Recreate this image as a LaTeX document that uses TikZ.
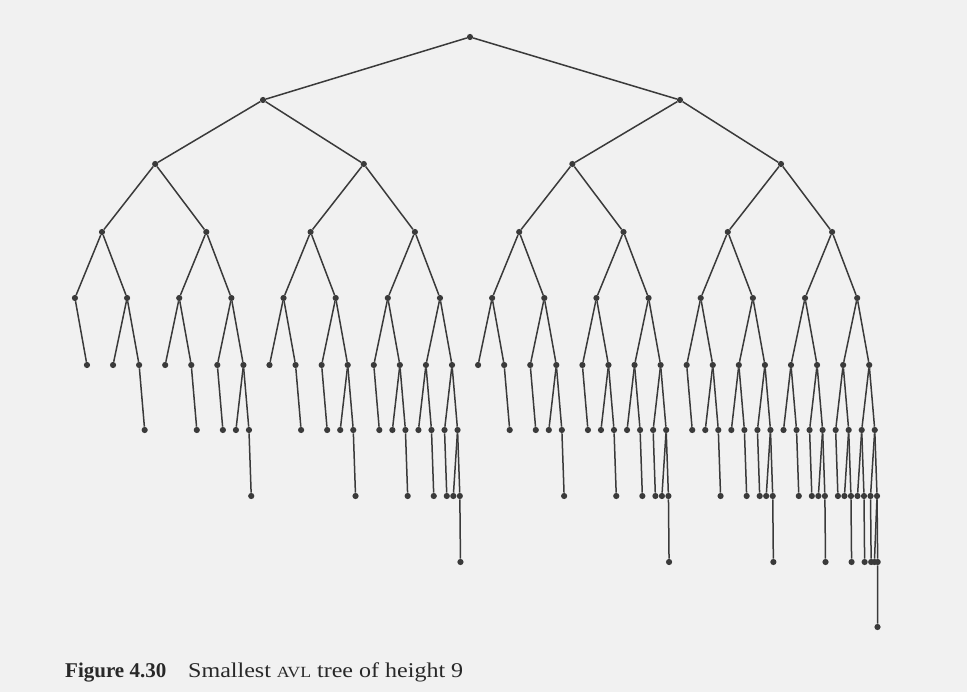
\documentclass[tikz,border=0pt]{standalone}
\usepackage{fontspec}
\usepackage{graphicx}
\setmainfont{Liberation Serif}
\definecolor{paper}{RGB}{241,241,241}
\definecolor{ink}{RGB}{58,58,58}
\definecolor{capink}{RGB}{40,40,40}
\tikzset{
  avldot/.style={circle,fill=ink,draw=none,inner sep=0pt,minimum size=6.2pt},
  avledge/.style={draw=ink,line width=1.5pt},
  captxt/.style={anchor=base west,inner sep=0pt,text=capink}
}
\def\avlylev#1{\ifcase#1 37\or 100\or 164\or 232\or 298\or 365\or 430\or 496\or 562\or 627\else 700\fi}
\def\avloffs#1{\ifcase#1 0\or 208.6\or 104.3\or 52.15\or 26.075\or 13.0375\or 6.51875\or 3.259375\or 1.6296875\or 0.81484375\else 0\fi}
\newcommand\avlsub[5]{%
  \ifnum#1>-1\relax
  \begingroup
    \edef\avly{\avlylev{#4}}%
    \pgfmathsetmacro\avlx{#3-0.015*(\avly-232)}%
    \node[avldot] (#2) at (\avlx,\avly) {};
    \draw[avledge] (#5) -- (#2);
    \edef\avlo{\avloffs{\the\numexpr#4+1\relax}}%
    \pgfmathsetmacro\avlxl{#3-\avlo}%
    \pgfmathsetmacro\avlxr{#3+\avlo}%
    \edef\avlnext{%
      \noexpand\avlsub{\the\numexpr#1-2\relax}{#2l}{\avlxl}{\the\numexpr#4+1\relax}{#2}%
      \noexpand\avlsub{\the\numexpr#1-1\relax}{#2r}{\avlxr}{\the\numexpr#4+1\relax}{#2}}%
    \avlnext
  \endgroup
  \fi}
\begin{document}
\begin{tikzpicture}[x=1pt,y=-1pt]
\fill[paper] (0,0) rectangle (967,692);
\useasboundingbox (0,0) rectangle (967,692);
% top of the tree
\node[avldot] (T) at (470,37) {};
\node[avldot] (L) at (263,100) {};
\node[avldot] (R) at (680,100) {};
\draw[avledge] (T) -- (L);
\draw[avledge] (T) -- (R);
% left subtree: minimum AVL tree of height 7
\avlsub{5}{Ll}{154.15}{2}{L}
\avlsub{6}{Lr}{362.75}{2}{L}
% right subtree: minimum AVL tree of height 8
\avlsub{6}{Rl}{571.35}{2}{R}
\avlsub{7}{Rr}{779.95}{2}{R}
% caption
\node[captxt,font=\bfseries\fontsize{21}{24}\selectfont] (fig) at (65,677) {Figure 4.30};
\node[captxt,font=\fontsize{21}{24}\selectfont] (cap) at (188,677)
  {\resizebox{275pt}{\height}{Smallest {\fontsize{15.5}{15.5}\selectfont AVL} tree of height 9}};
\end{tikzpicture}
\end{document}
